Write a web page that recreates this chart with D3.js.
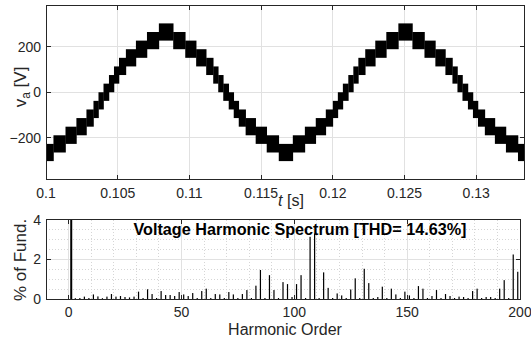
<!DOCTYPE html>
<html>
<head>
<meta charset="utf-8">
<script src="https://cdn.jsdelivr.net/npm/d3@7"></script>
<style>
body { margin: 0; background: #fff; }
text { font-family: "Liberation Sans", Arial, sans-serif; fill: #262626; }
</style>
</head>
<body>
<div id="chart"></div>
<script>
// ---- top plot data: staircase blocks (start time [s], level centre [V]) ----
var timeTicks = [0.1, 0.105, 0.11, 0.115, 0.12, 0.125, 0.13];
var voltTicks = [-200, 0, 200];
var timeRange = [0.1, 0.13333];
var voltRange = [-383, 383];
var levelStep = 38; // PWM toggles one level up/down around the centre

var stepTimes = [
	0.10000, 0.10052, 0.10136, 0.10212, 0.10282, 0.10331, 0.10366, 0.10401,
	0.10439, 0.10474, 0.10509, 0.10557, 0.10627, 0.10704, 0.10787,
	0.10887, 0.10971, 0.11047, 0.11117, 0.11166, 0.11201, 0.11236,
	0.11274, 0.11309, 0.11344, 0.11392, 0.11462, 0.11539, 0.11623,
	0.11721, 0.11805, 0.11881, 0.11951, 0.12000, 0.12035, 0.12070,
	0.12108, 0.12143, 0.12178, 0.12226, 0.12296, 0.12373, 0.12457,
	0.12555, 0.12639, 0.12715, 0.12785, 0.12834, 0.12869, 0.12904,
	0.12942, 0.12977, 0.13012, 0.13060, 0.13130, 0.13207, 0.13291,
	0.13333
];
var stepLevels = [
	-266, -228, -190, -152, -114, -76, -38, 0,
	38, 76, 114, 152, 190, 228, 266,
	228, 190, 152, 114, 76, 38, 0,
	-38, -76, -114, -152, -190, -228, -266,
	-228, -190, -152, -114, -76, -38, 0,
	38, 76, 114, 152, 190, 228, 266,
	228, 190, 152, 114, 76, 38, 0,
	-38, -76, -114, -152, -190, -228, -266
];

// ---- bottom plot data: harmonic spectrum ----
var harmTicks = [0, 50, 100, 150, 200];
var pctTicks = [0, 2, 4];
var harmRange = [-10, 200];
var pctRange = [0, 4];
var harmOrder = [
	1, 3, 5, 7, 9, 11, 13, 15, 17, 19, 21, 23, 25, 27, 29, 31, 33, 35, 37, 39,
	41, 43, 45, 47, 49, 51, 53, 55, 57, 59, 61, 63, 65, 67, 69, 71, 73, 75, 77, 79,
	81, 83, 85, 87, 89, 91, 93, 95, 97, 99, 101, 103, 105, 107, 109, 111, 113, 115, 117, 119,
	121, 123, 125, 127, 129, 131, 133, 135, 137, 139, 141, 143, 145, 147, 149, 151, 153, 155, 157, 159,
	161, 163, 165, 167, 169, 171, 173, 175, 177, 179, 181, 183, 185, 187, 189, 191, 193, 195, 197, 199
];
var harmPct = [
	100, 0.04, 0.05, 0.12, 0.05, 0.23, 0.13, 0.04, 0.12, 0.25, 0.12, 0.15, 0.1, 0.08, 0.12, 0.37, 0.05, 0.49, 0.25, 0.05,
	0.4, 0.2, 0.2, 0.15, 0.35, 0.23, 0.15, 0.3, 0.05, 0.4, 0.52, 0.05, 0.25, 0.23, 0.05, 0.35, 0.23, 0.05, 0.25, 0.45,
	0.05, 0.67, 1.46, 0.05, 1.2, 0.45, 0.05, 0.85, 0.75, 0.1, 0.75, 1.2, 0.05, 3.13, 3.3, 0.05, 1.34, 0.56, 0.05, 0.28,
	0.18, 0.05, 0.48, 1.04, 0.05, 1.52, 0.8, 0.05, 0.1, 0.62, 0.05, 0.52, 0.23, 0.05, 0.37, 0.18, 0.05, 0.65, 0.52, 0.05,
	0.15, 0.45, 0.05, 0.25, 0.15, 0.05, 0.12, 0.1, 0.05, 0.4, 0.52, 0.05, 0.1, 0.1, 0.05, 0.52, 0.95, 0.05, 2.24, 1.37
];
var thd = "14.63";

var svg, axisColor = "#262626", gridColor = "#e1e1e1", tickLen = 4.5;

function onLoad() {
	svg = d3.select("#chart").append("svg")
		.attr("width", 531)
		.attr("height", 341);
	svg.append("rect").attr("width", 531).attr("height", 341).attr("fill", "#fff");

	drawVoltage();
	drawSpectrum();
}

function drawGrid(g, x, y, xt, yt, color, dash) {
	var box = {x0: x.range()[0], x1: x.range()[1], y0: y.range()[1], y1: y.range()[0]};
	g.selectAll(null).data(xt).enter().append("line")
		.attr("x1", d => x(d)).attr("x2", d => x(d))
		.attr("y1", box.y0).attr("y2", box.y1)
		.attr("stroke", color).attr("stroke-dasharray", dash || null)
		.attr("shape-rendering", "crispEdges");
	g.selectAll(null).data(yt).enter().append("line")
		.attr("x1", box.x0).attr("x2", box.x1)
		.attr("y1", d => y(d)).attr("y2", d => y(d))
		.attr("stroke", color).attr("stroke-dasharray", dash || null)
		.attr("shape-rendering", "crispEdges");
}

function drawFrame(g, x, y, xt, yt, xFmt, yFmt, xLabelY) {
	var x0 = x.range()[0], x1 = x.range()[1], y0 = y.range()[1], y1 = y.range()[0];
	g.append("rect")
		.attr("x", x0).attr("y", y0)
		.attr("width", x1 - x0).attr("height", y1 - y0)
		.attr("fill", "none").attr("stroke", axisColor)
		.attr("shape-rendering", "crispEdges");
	xt.forEach(d => {
		g.append("line").attr("x1", x(d)).attr("x2", x(d)).attr("y1", y1).attr("y2", y1 - tickLen)
			.attr("stroke", axisColor).attr("shape-rendering", "crispEdges");
		g.append("line").attr("x1", x(d)).attr("x2", x(d)).attr("y1", y0).attr("y2", y0 + tickLen)
			.attr("stroke", axisColor).attr("shape-rendering", "crispEdges");
		g.append("text").attr("x", x(d)).attr("y", xLabelY)
			.attr("text-anchor", "middle").attr("font-size", 14)
			.text(xFmt(d));
	});
	yt.forEach(d => {
		g.append("line").attr("x1", x0).attr("x2", x0 + tickLen).attr("y1", y(d)).attr("y2", y(d))
			.attr("stroke", axisColor).attr("shape-rendering", "crispEdges");
		g.append("line").attr("x1", x1).attr("x2", x1 - tickLen).attr("y1", y(d)).attr("y2", y(d))
			.attr("stroke", axisColor).attr("shape-rendering", "crispEdges");
		g.append("text").attr("x", x0 - 5).attr("y", y(d) + 5)
			.attr("text-anchor", "end").attr("font-size", 14)
			.text(yFmt(d));
	});
}

function drawVoltage() {
	var x = d3.scaleLinear().domain(timeRange).range([46, 524]);
	var y = d3.scaleLinear().domain(voltRange).range([179, 5.5]);
	var g = svg.append("g");

	drawGrid(g, x, y, timeTicks, voltTicks, gridColor);

	var blocks = stepLevels.map((v, i) => ({t0: stepTimes[i], t1: stepTimes[i + 1], v: v}));
	g.selectAll(null).data(blocks).enter().append("rect")
		.attr("x", d => x(d.t0))
		.attr("width", d => x(d.t1) - x(d.t0) + 0.3)
		.attr("y", d => y(d.v + levelStep))
		.attr("height", d => y(d.v - levelStep) - y(d.v + levelStep))
		.attr("fill", "#000");

	drawFrame(g, x, y, timeTicks, voltTicks, d3.format(""), d3.format(""), 198);

	var yl = g.append("text")
		.attr("transform", "translate(26,87) rotate(-90)")
		.attr("text-anchor", "middle").attr("font-size", 17);
	yl.append("tspan").text("v");
	yl.append("tspan").attr("font-size", 12).attr("dy", 4).text("a");
	yl.append("tspan").attr("dy", -4).text(" [V]");

	var xl = g.append("text").attr("x", 291).attr("y", 206)
		.attr("text-anchor", "middle").attr("font-size", 16);
	xl.append("tspan").attr("font-style", "italic").text("t");
	xl.append("tspan").text(" [s]");
}

function drawSpectrum() {
	var x = d3.scaleLinear().domain(harmRange).range([46, 520]);
	var y = d3.scaleLinear().domain(pctRange).range([299, 219.5]);
	var g = svg.append("g");

	svg.append("clipPath").attr("id", "specClip")
		.append("rect").attr("x", 46).attr("y", 219.5).attr("width", 474).attr("height", 79.5);

	drawGrid(g, x, y, d3.range(-10, 201, 10), d3.range(0.5, 4, 0.5), "#d6d6d6", "1,2");
	drawGrid(g, x, y, harmTicks, pctTicks, gridColor);

	var bars = harmOrder.map((h, i) => ({h: h, v: harmPct[i]}));
	g.append("g").attr("clip-path", "url(#specClip)")
		.selectAll("rect").data(bars).enter().append("rect")
		.attr("x", d => x(d.h) - 0.6)
		.attr("width", d => d.h === 1 ? 2 : 1.2)
		.attr("y", d => y(d.v))
		.attr("height", d => y(0) - y(d.v))
		.attr("fill", "#000");

	drawFrame(g, x, y, harmTicks, pctTicks, d3.format(""), d3.format(""), 317);

	g.append("text").attr("x", 300).attr("y", 235)
		.attr("text-anchor", "middle").attr("font-size", 16.2).attr("font-weight", "bold")
		.style("fill", "#000")
		.text("Voltage Harmonic Spectrum [THD= " + thd + "%]");

	g.append("text")
		.attr("transform", "translate(26,260) rotate(-90)")
		.attr("text-anchor", "middle").attr("font-size", 17)
		.text("% of Fund.");

	g.append("text").attr("x", 285).attr("y", 335)
		.attr("text-anchor", "middle").attr("font-size", 16)
		.text("Harmonic Order");
}

onLoad();
</script>
</body>
</html>
